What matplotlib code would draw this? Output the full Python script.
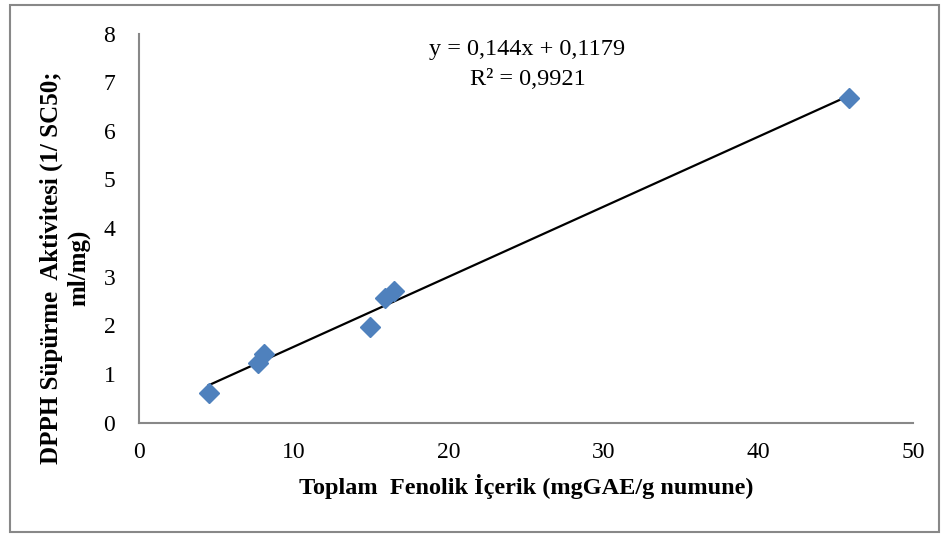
import numpy as np
import matplotlib.pyplot as plt
from matplotlib.patches import Rectangle

plt.rcParams['font.family'] = ['Liberation Serif', 'DejaVu Serif']

# data
toplam_fenolik = [4.5, 7.7, 8.1, 14.9, 15.9, 16.5, 45.9]
dpph = [0.60, 1.22, 1.40, 1.96, 2.56, 2.70, 6.68]
slope = 0.144
intercept = 0.1179
r2_text = "R² = 0,9921"
eq_text = "y = 0,144x + 0,1179"

fig = plt.figure(figsize=(9.46, 5.34), dpi=100)
ax = fig.add_axes([0.1469, 0.2088, 0.8181, 0.7282])

ax.plot(toplam_fenolik, dpph, 'D', color='#4F81BD', markersize=10.5, zorder=3)

# trend line
xs = np.array([min(toplam_fenolik), max(toplam_fenolik)])
ax.plot(xs, slope * xs + intercept, color='black', lw=1.6, zorder=2)

ax.set_xlim(0, 50)
ax.set_ylim(0, 8)
ax.set_xticks(range(0, 51, 10))
ax.set_yticks(range(0, 9))
ax.tick_params(length=0, labelsize=17)
ax.tick_params(axis='y', pad=17)
ax.tick_params(axis='x', pad=14)
for s in ['top', 'right']:
    ax.spines[s].set_visible(False)
for s in ['left', 'bottom']:
    ax.spines[s].set_color('#888888')
    ax.spines[s].set_linewidth(1.5)

ax.text(25.1, 7.68, eq_text, ha='center', va='center', fontsize=17.5)
ax.text(25.1, 7.05, r2_text, ha='center', va='center', fontsize=17.5)

ax.set_xlabel('Toplam  Fenolik İçerik (mgGAE/g numune)', fontsize=17.5,
              fontweight='bold', labelpad=8)
fig.text(0.069, 0.498, 'DPPH Süpürme  Aktivitesi (1/ SC50;\nml/mg)', rotation=90,
         ha='center', va='center', fontsize=18, fontweight='bold',
         linespacing=1.2)

# outer chart border
fig.patches.append(Rectangle((0.011, 0.004), 0.982, 0.986, transform=fig.transFigure,
                             fill=False, edgecolor='#888888', lw=1.5))

fig.savefig('out.png', dpi=100)
